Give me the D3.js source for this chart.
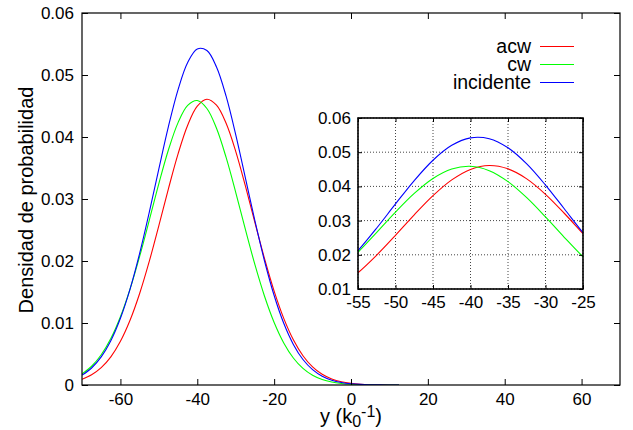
<!DOCTYPE html>
<html>
<head>
<meta charset="utf-8">
<script src="https://cdn.jsdelivr.net/npm/d3@7"></script>
<style>
  body { margin: 0; background: #fff; }
  text { font-family: "Liberation Sans", Arial, Helvetica, sans-serif; fill: #000; }
</style>
</head>
<body>
<div id="chart"></div>
<script>
const yPos = [-70, -67.5, -65, -62.5, -60, -57.5, -55, -52.5, -50, -47.5, -45, -42.5, -40, -37.5, -35, -32.5,
  -30, -27.5, -25, -22.5, -20, -17.5, -15, -12.5, -10, -7.5, -5, -2.5, 0, 2.5, 5, 7.5, 10, 12.5];
const acw = [0.000927, 0.001649, 0.002801, 0.004546, 0.007049, 0.01044, 0.01476, 0.01993, 0.02571, 0.03168,
  0.03728, 0.04190, 0.04497, 0.04610, 0.04513, 0.04221, 0.03769, 0.03215, 0.02619, 0.02038, 0.01515, 0.01075,
  0.00729, 0.00472, 0.00292, 0.001723, 0.000972, 0.000523, 0.000269, 0.000132, 0.000062, 0.000028, 0.000012, 0.000005];
const cw = [0.001792, 0.003023, 0.004870, 0.007496, 0.01102, 0.01547, 0.02074, 0.02656, 0.03248, 0.03794,
  0.04232, 0.04509, 0.04588, 0.04460, 0.04140, 0.03670, 0.03108, 0.02513, 0.01941, 0.01432, 0.01009, 0.00679,
  0.00436, 0.00268, 0.001570, 0.000879, 0.000470, 0.000240, 0.000117, 0.000055, 0.000024, 0.000010, 0.000004, 0.000002];
const incidente = [0.001590, 0.002746, 0.004532, 0.007143, 0.010755, 0.01546, 0.02123, 0.02784, 0.03487, 0.04171,
  0.04765, 0.05201, 0.05420, 0.05395, 0.05129, 0.04658, 0.04039, 0.03346, 0.02647, 0.02000, 0.01443, 0.00995,
  0.00655, 0.00411, 0.00247, 0.001417, 0.000776, 0.000406, 0.000203, 0.000097, 0.000044, 0.000019, 0.000008, 0.000003];

const seriesNames = ['acw', 'cw', 'incidente'];
const seriesColors = ['#ff0000', '#00ff00', '#0000ff'];
const seriesValues = [acw, cw, incidente];

const xTicks = [-60, -40, -20, 0, 20, 40, 60];
const yTicks = [0, 0.01, 0.02, 0.03, 0.04, 0.05, 0.06];
const insetXTicks = [-55, -50, -45, -40, -35, -30, -25];
const insetYTicks = [0.01, 0.02, 0.03, 0.04, 0.05, 0.06];

const W = 633, H = 430;
const MAIN = { left: 82, right: 620, top: 13, bottom: 385 };
const INSET = { left: 358, right: 583, top: 118, bottom: 289 };

// gnuplot style labels: plain hyphen minus
const fmtInt = d => String(d);
const fmtDec = d => d === 0 ? '0' : d.toFixed(2);

const svg = d3.select('#chart').append('svg')
  .attr('width', W).attr('height', H);
svg.append('rect').attr('width', W).attr('height', H).attr('fill', '#fff');

const series = seriesNames.map((name, i) => ({
  name,
  color: seriesColors[i],
  points: yPos.map((x, j) => [x, seriesValues[i][j]])
}));

function mirrorTicks(g, x, y, xt, yt, size, box) {
  g.append('g').attr('transform', `translate(0,${box.top})`)
    .call(d3.axisTop(x).tickValues(xt).tickSize(-size).tickFormat(''))
    .call(a => a.select('.domain').remove());
  g.append('g').attr('transform', `translate(${box.right},0)`)
    .call(d3.axisRight(y).tickValues(yt).tickSize(-size).tickFormat(''))
    .call(a => a.select('.domain').remove());
}

// ---- main plot
const x = d3.scaleLinear().domain([-70, 70]).range([MAIN.left, MAIN.right]);
const y = d3.scaleLinear().domain([0, 0.06]).range([MAIN.bottom, MAIN.top]);

svg.append('defs').append('clipPath').attr('id', 'clipMain')
  .append('rect').attr('x', MAIN.left).attr('y', MAIN.top)
  .attr('width', MAIN.right - MAIN.left).attr('height', MAIN.bottom - MAIN.top);

const line = d3.line().x(d => x(d[0])).y(d => y(d[1])).curve(d3.curveCatmullRom);

svg.append('g').attr('clip-path', 'url(#clipMain)')
  .selectAll('path').data(series).enter().append('path')
    .attr('d', d => line(d.points))
    .attr('fill', 'none')
    .attr('stroke', d => d.color)
    .attr('stroke-width', 1.1);

svg.append('g').attr('transform', `translate(0,${MAIN.bottom})`)
  .call(d3.axisBottom(x).tickValues(xTicks).tickSize(-6).tickPadding(8).tickFormat(fmtInt));
svg.append('g').attr('transform', `translate(${MAIN.left},0)`)
  .call(d3.axisLeft(y).tickValues(yTicks).tickSize(-6).tickPadding(8).tickFormat(fmtDec));
mirrorTicks(svg, x, y, xTicks, yTicks, 6, MAIN);

svg.selectAll('.domain').remove();
svg.selectAll('.tick line').attr('stroke', '#000');
svg.selectAll('.tick text').attr('font-size', 17).attr('font-family', null);

svg.append('rect')
  .attr('x', MAIN.left).attr('y', MAIN.top)
  .attr('width', MAIN.right - MAIN.left).attr('height', MAIN.bottom - MAIN.top)
  .attr('fill', 'none').attr('stroke', '#000').attr('stroke-width', 1.2);

// axis labels
svg.append('text')
  .attr('transform', `translate(33,200) rotate(-90)`)
  .attr('text-anchor', 'middle')
  .attr('font-size', 20)
  .text('Densidad de probabilidad');

const xl = svg.append('text')
  .attr('x', (MAIN.left + MAIN.right) / 2)
  .attr('y', 423)
  .attr('text-anchor', 'middle')
  .attr('font-size', 20);
xl.append('tspan').text('y (k');
xl.append('tspan').attr('font-size', 16).attr('dy', 4).text('0');
xl.append('tspan').attr('font-size', 16).attr('dy', -10).text('-1');
xl.append('tspan').attr('dy', 6).text(')');

// legend
const legend = svg.append('g').selectAll('g').data(series).enter().append('g')
  .attr('transform', (d, i) => `translate(0,${46.5 + i * 18})`);
legend.append('text')
  .attr('x', 531).attr('y', 6.5)
  .attr('text-anchor', 'end')
  .attr('font-size', 19.5)
  .text(d => d.name);
legend.append('line')
  .attr('x1', 540).attr('x2', 574)
  .attr('stroke', d => d.color).attr('stroke-width', 1.2);

// ---- inset
const xi = d3.scaleLinear().domain([-55, -25]).range([INSET.left, INSET.right]);
const yi = d3.scaleLinear().domain([0.01, 0.06]).range([INSET.bottom, INSET.top]);

const inset = svg.append('g');
inset.append('rect')
  .attr('x', INSET.left).attr('y', INSET.top)
  .attr('width', INSET.right - INSET.left).attr('height', INSET.bottom - INSET.top)
  .attr('fill', '#fff');

svg.select('defs').append('clipPath').attr('id', 'clipInset')
  .append('rect').attr('x', INSET.left).attr('y', INSET.top)
  .attr('width', INSET.right - INSET.left).attr('height', INSET.bottom - INSET.top);

// dotted grid
inset.append('g').selectAll('line').data(insetXTicks).enter().append('line')
  .attr('x1', d => xi(d)).attr('x2', d => xi(d))
  .attr('y1', INSET.top).attr('y2', INSET.bottom)
  .attr('stroke', '#444').attr('stroke-width', 1).attr('stroke-dasharray', '1,2');
inset.append('g').selectAll('line').data(insetYTicks).enter().append('line')
  .attr('x1', INSET.left).attr('x2', INSET.right)
  .attr('y1', d => yi(d)).attr('y2', d => yi(d))
  .attr('stroke', '#444').attr('stroke-width', 1).attr('stroke-dasharray', '1,2');

const iline = d3.line().x(d => xi(d[0])).y(d => yi(d[1])).curve(d3.curveCatmullRom);
inset.append('g').attr('clip-path', 'url(#clipInset)')
  .selectAll('path').data(series).enter().append('path')
    .attr('d', d => iline(d.points))
    .attr('fill', 'none')
    .attr('stroke', d => d.color)
    .attr('stroke-width', 1.1);

inset.append('g').attr('transform', `translate(0,${INSET.bottom})`)
  .call(d3.axisBottom(xi).tickValues(insetXTicks).tickSize(-4).tickPadding(7).tickFormat(fmtInt));
inset.append('g').attr('transform', `translate(${INSET.left},0)`)
  .call(d3.axisLeft(yi).tickValues(insetYTicks).tickSize(-4).tickPadding(7).tickFormat(fmtDec));
mirrorTicks(inset, xi, yi, insetXTicks, insetYTicks, 4, INSET);

inset.selectAll('.domain').remove();
inset.selectAll('.tick line').attr('stroke', '#000');
inset.selectAll('.tick text').attr('font-size', 17).attr('font-family', null);

inset.append('rect')
  .attr('x', INSET.left).attr('y', INSET.top)
  .attr('width', INSET.right - INSET.left).attr('height', INSET.bottom - INSET.top)
  .attr('fill', 'none').attr('stroke', '#000').attr('stroke-width', 1.6);
</script>
</body>
</html>
